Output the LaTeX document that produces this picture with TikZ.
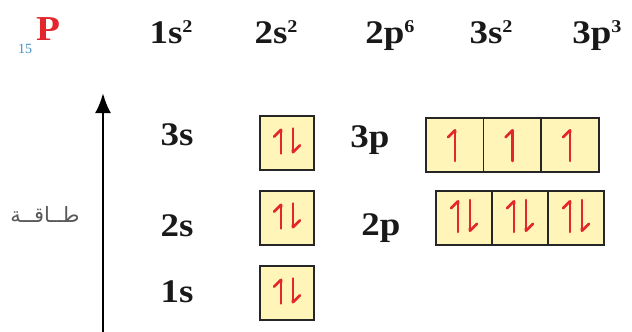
\documentclass[tikz,border=0pt]{standalone}
\usepackage{fontspec}
\setmainfont{Liberation Serif}
\newfontfamily\labelfont[FakeStretch=1.12]{Liberation Serif}
\newfontfamily\arabicfont[Script=Arabic]{DejaVu Sans}
\TeXXeTstate=1
\usetikzlibrary{arrows.meta}
\definecolor{orbfill}{HTML}{FFF5B8}
\definecolor{spin}{HTML}{E3262C}
\definecolor{zblue}{HTML}{3F8FC8}
\newcommand\esup[1]{\raisebox{10.5pt}{\fontsize{18}{18}\selectfont#1}}
\begin{document}
\begin{tikzpicture}[x=1pt,y=-1pt,every node/.style={font=\labelfont\fontsize{33}{33}\selectfont\bfseries,inner sep=0pt,text=black!90},
  harp/.style={spin,line width=2.6pt,line cap=round,-{Straight Barb[left,length=7pt,width=14pt,round]}},
  orb/.style={draw=black!85,line width=1.8pt,fill=orbfill,minimum height=54pt,minimum width=#1},
  orb/.default=54pt,
  pair/.style={path picture={
    \draw[harp]([xshift=-6pt,yshift=-#1+2pt]path picture bounding box.center)--++(0pt,2*#1);
    \draw[harp]([xshift=6pt,yshift=#1+2pt]path picture bounding box.center)--++(0pt,-2*#1);}},
  single/.style={path picture={
    \draw[harp]([yshift=-#1]path picture bounding box.center)--++(0pt,2*#1);}}]
\useasboundingbox (0,0) rectangle (632,332);
% header
\node[text=spin,anchor=base,font=\labelfont\fontsize{35}{35}\selectfont\bfseries] at(48,40)(P){P};
\node[text=zblue,anchor=base,font=\fontsize{14}{14}\selectfont] at(25,53)(Z){15};
\node[anchor=base] at(171,43)(h1s){1s\esup{2}};
\node[anchor=base] at(276,43)(h2s){2s\esup{2}};
\node[anchor=base] at(390,43)(h2p){2p\esup{6}};
\node[anchor=base] at(491,43)(h3s){3s\esup{2}};
\node[anchor=base] at(597,43)(h3p){3p\esup{3}};
% energy axis
\coordinate (ebot) at (103,332);
\coordinate (etop) at (103,93);
\draw[line width=2.8pt,-{Latex[length=20pt,width=16pt]}] (ebot)--(etop);
\node[anchor=base,font=\arabicfont\fontsize{21}{21}\selectfont,text=black!65] at(45,222)(E){\beginR طــاقــة\endR};
% level labels
\node[anchor=base] at(177,145)(l3s){3s};
\node[anchor=base] at(177,236)(l2s){2s};
\node[anchor=base] at(177,302)(l1s){1s};
\node[anchor=base] at(370,147)(l3p){3p};
\node[anchor=base] at(381,235)(l2p){2p};
% orbitals
\node[orb,pair=12.5pt] at(287,143)(b3s){};
\node[orb,pair=12.5pt] at(287,218)(b2s){};
\node[orb,pair=12.5pt] at(287,293)(b1s){};
\node[orb=58pt,single=16pt] at(455,145)(b3p1){};
\node[orb=58pt,single=16pt] at(512.5,145)(b3p2){};
\node[orb=58pt,single=16pt] at(570,145)(b3p3){};
\node[orb=56pt,pair=16pt] at(464,218)(b2p1){};
\node[orb=56pt,pair=16pt] at(520,218)(b2p2){};
\node[orb=56pt,pair=16pt] at(576,218)(b2p3){};
\end{tikzpicture}
\end{document}
